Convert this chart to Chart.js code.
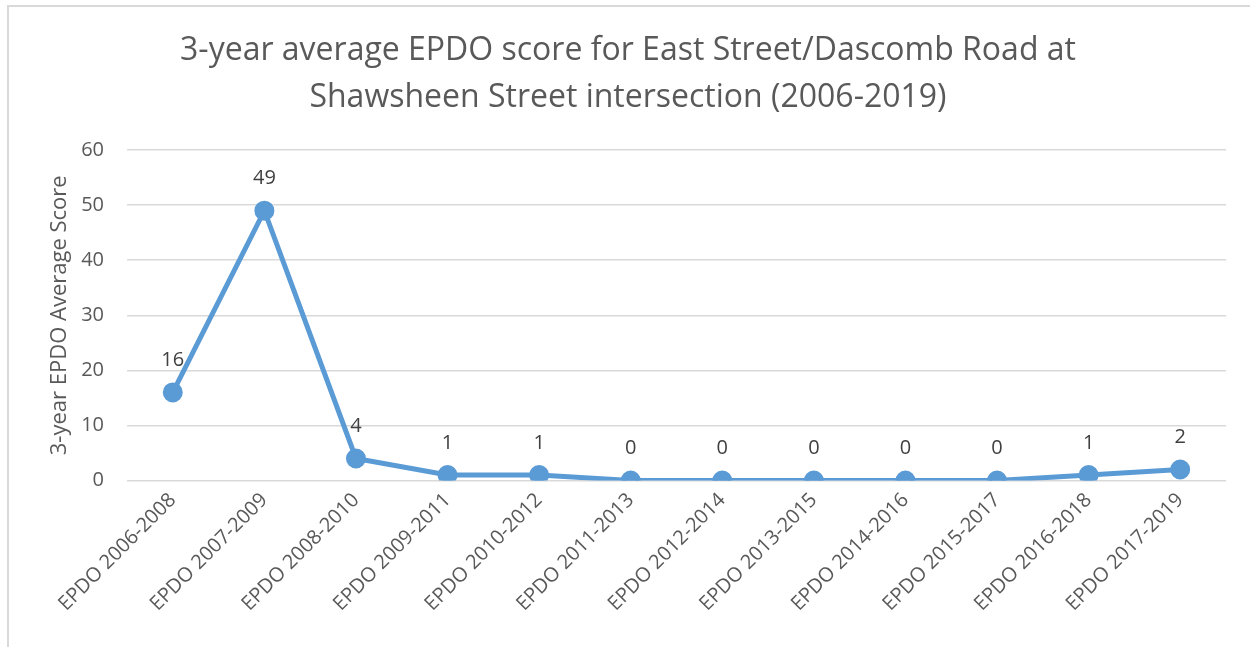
<!DOCTYPE html>
<html>
<head>
<meta charset="utf-8">
<script src="https://cdn.jsdelivr.net/npm/chart.js@4/dist/chart.umd.min.js"></script>
<style>
  html, body { margin: 0; padding: 0; background: #fff; overflow: hidden; }
  #wrap { position: relative; width: 1250px; height: 647px; }
  #frame { position: absolute; left: 7px; top: 5px; width: 1260px; height: 660px;
           border-left: 2px solid #d9d9d9; border-top: 2px solid #d9d9d9; pointer-events: none; }
  canvas { position: absolute; left: 0; top: 0; }
</style>
</head>
<body>
<div id="wrap">
  <canvas id="c" width="1250" height="647"></canvas>
  <div id="frame"></div>
</div>
<script>
const categories = ["EPDO 2006-2008","EPDO 2007-2009","EPDO 2008-2010","EPDO 2009-2011","EPDO 2010-2012","EPDO 2011-2013","EPDO 2012-2014","EPDO 2013-2015","EPDO 2014-2016","EPDO 2015-2017","EPDO 2016-2018","EPDO 2017-2019"];
const scores = [16, 49, 4, 1, 1, 0, 0, 0, 0, 0, 1, 2];
const titleLines = ["3-year average EPDO score for East Street/Dascomb Road at", "Shawsheen Street intersection (2006-2019)"];
const yAxisTitle = "3-year EPDO Average Score";
const yMin = 0, yMax = 60, yStep = 10;

const FONT = "'Open Sans', 'Liberation Sans', sans-serif";
const GRAY = "#595959";

const valueLabels = {
  id: 'valueLabels',
  afterDatasetsDraw(chart) {
    const ctx = chart.ctx;
    const meta = chart.getDatasetMeta(0);
    ctx.save();
    ctx.font = "20px " + FONT;
    ctx.fillStyle = "#404040";
    ctx.textAlign = "center";
    ctx.textBaseline = "middle";
    meta.data.forEach((pt, i) => {
      ctx.fillText(String(scores[i]), pt.x, pt.y - 32);
    });
    ctx.restore();
  }
};

new Chart(document.getElementById('c'), {
  type: 'line',
  data: {
    labels: categories,
    datasets: [{
      data: scores,
      borderColor: "#5B9BD5",
      backgroundColor: "#5B9BD5",
      borderWidth: 5,
      pointRadius: 7.5,
      pointHoverRadius: 7.5,
      pointBackgroundColor: "#5B9BD5",
      pointBorderColor: "#5B9BD5",
      tension: 0,
      fill: false
    }]
  },
  options: {
    responsive: false,
    animation: false,
    devicePixelRatio: 1,
    layout: { padding: { top: 27, left: 30, right: 24, bottom: 23 } },
    plugins: {
      legend: { display: false },
      tooltip: { enabled: false },
      title: {
        display: true,
        text: titleLines,
        color: GRAY,
        font: { family: FONT, size: 32, weight: 'normal', lineHeight: 1.47 },
        padding: { top: 0, bottom: 29 }
      }
    },
    scales: {
      x: {
        offset: true,
        afterFit(scale) { scale.paddingLeft = 0; },
        grid: { display: false, drawTicks: false },
        border: { display: false },
        ticks: {
          color: GRAY,
          font: { family: FONT, size: 20 },
          maxRotation: 45, minRotation: 45,
          padding: 8,
          autoSkip: false
        }
      },
      y: {
        min: yMin, max: yMax,
        afterFit(scale) { scale.width = 97; },
        grid: { color: "#d9d9d9", lineWidth: 1.5, drawTicks: false },
        border: { display: false },
        ticks: {
          stepSize: yStep,
          color: GRAY,
          font: { family: FONT, size: 20 },
          padding: 23
        },
        title: {
          display: true,
          text: yAxisTitle,
          color: GRAY,
          font: { family: FONT, size: 22, weight: 'normal' },
          padding: { top: 17, bottom: 8 }
        }
      }
    }
  },
  plugins: [valueLabels]
});
</script>
</body>
</html>
